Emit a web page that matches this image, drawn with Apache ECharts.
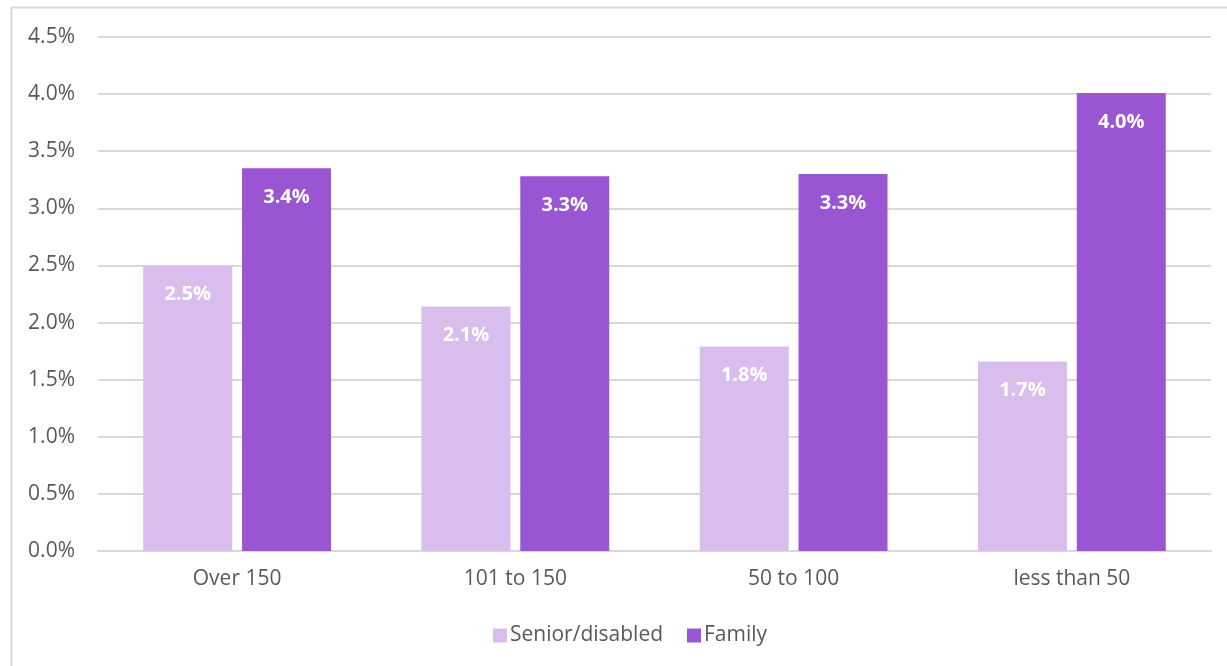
<!DOCTYPE html>
<html>
<head>
<meta charset="utf-8">
<script src="https://cdn.jsdelivr.net/npm/echarts@6/dist/echarts.min.js"></script>
<style>
  html, body { margin: 0; padding: 0; background: #ffffff; }
  #chart { width: 1227px; height: 666px; }
</style>
</head>
<body>
<div id="chart"></div>
<script>
// Property size groups (units) and the rate for each household type, in percent
const categories = ['Over 150', '101 to 150', '50 to 100', 'less than 50'];
const seniorDisabled = [2.5, 2.14, 1.79, 1.66];
const family = [3.35, 3.28, 3.3, 4.01];
const yTicks = { min: 0, max: 4.5, interval: 0.5 };

const FONT = '"Open Sans", "Liberation Sans", sans-serif';
const AXIS_TEXT = '#595959';

const chart = echarts.init(document.getElementById('chart'), null, { renderer: 'canvas' });

const barLabel = {
  show: true,
  position: 'insideTop',
  distance: 19,
  color: '#ffffff',
  fontFamily: FONT,
  fontWeight: 'bold',
  fontSize: 20,
  formatter: p => p.value.toFixed(1) + '%'
};

chart.setOption({
  animation: false,
  backgroundColor: '#ffffff',
  graphic: [{
    type: 'polyline',
    shape: { points: [[11.5, 680], [11.5, 7.5], [1240, 7.5]] },
    style: { stroke: '#d9d9d9', lineWidth: 2, fill: null },
    silent: true
  }],
  grid: { left: 98, right: 16, top: 37, bottom: 115, containLabel: false },
  legend: {
    top: 620,
    left: 488,
    itemWidth: 14,
    itemHeight: 14,
    itemGap: 24,
    icon: 'rect',
    textStyle: { color: AXIS_TEXT, fontFamily: FONT, fontSize: 21, padding: [0, 0, 0, -2] },
    data: ['Senior/disabled', 'Family']
  },
  xAxis: {
    type: 'category',
    data: categories,
    axisLine: { show: true, lineStyle: { color: '#d9d9d9', width: 2 } },
    axisTick: { show: false },
    axisLabel: { color: AXIS_TEXT, fontFamily: FONT, fontSize: 21, margin: 18 }
  },
  yAxis: {
    type: 'value',
    min: yTicks.min,
    max: yTicks.max,
    interval: yTicks.interval,
    axisLine: { show: false },
    axisTick: { show: false },
    splitLine: { lineStyle: { color: '#d9d9d9', width: 2 } },
    axisLabel: {
      color: AXIS_TEXT, fontFamily: FONT, fontSize: 21, margin: 23,
      formatter: v => v.toFixed(1) + '%'
    }
  },
  series: [
    {
      name: 'Senior/disabled',
      type: 'bar',
      data: seniorDisabled,
      barWidth: 89,
      barGap: '11%',
      itemStyle: { color: '#d9bdec' },
      label: barLabel
    },
    {
      name: 'Family',
      type: 'bar',
      data: family,
      barWidth: 89,
      barGap: '11%',
      itemStyle: { color: '#9a55d3' },
      label: barLabel
    }
  ]
});
</script>
</body>
</html>
